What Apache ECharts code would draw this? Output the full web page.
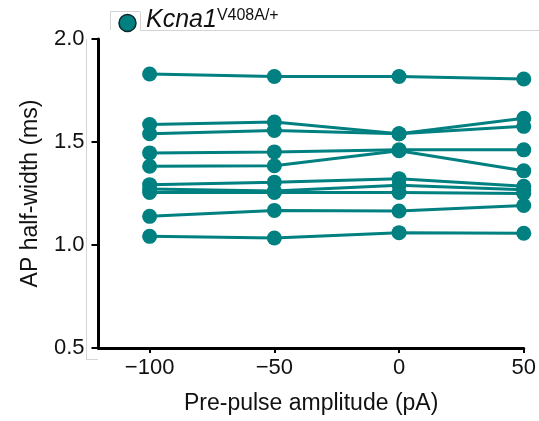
<!DOCTYPE html>
<html>
<head>
<meta charset="utf-8">
<script src="https://cdn.jsdelivr.net/npm/echarts@6/dist/echarts.min.js"></script>
<style>html,body{margin:0;padding:0;background:#fff}#c{width:539px;height:421px}</style>
</head>
<body>
<div id="c"></div>
<script>
// Pre-pulse amplitudes (pA)
const amplitudes = [-100, -50, 0, 50];
// AP half-width (ms), one array per cell
const cell1 = [1.830, 1.818, 1.818, 1.806];
const cell2 = [1.585, 1.597, 1.540, 1.615];
const cell3 = [1.540, 1.556, 1.540, 1.576];
const cell4 = [1.447, 1.452, 1.462, 1.462];
const cell5 = [1.382, 1.385, 1.458, 1.360];
const cell6 = [1.293, 1.305, 1.322, 1.285];
const cell7 = [1.272, 1.262, 1.290, 1.268];
const cell8 = [1.255, 1.255, 1.255, 1.250];
const cell9 = [1.139, 1.168, 1.165, 1.192];
const cell10 = [1.042, 1.034, 1.060, 1.057];
const cells = [cell1, cell2, cell3, cell4, cell5, cell6, cell7, cell8, cell9, cell10];
const xTicks = [-100, -50, 0, 50];
const yTicks = [0.5, 1.0, 1.5, 2.0];
const legendName = 'Kcna1';
const legendSup = 'V408A/+';

const color = '#008080';
const chart = echarts.init(document.getElementById('c'), null, {renderer: 'canvas'});
const series = cells.map((vals, i) => ({
  type: 'line',
  name: 'cell ' + (i + 1),
  data: vals.map((v, j) => [amplitudes[j], v]),
  symbol: 'circle',
  symbolSize: 15,
  clip: false,
  lineStyle: {color: color, width: 3},
  itemStyle: {color: color},
  emphasis: {disabled: true},
  z: 3
}));
const gray = '#d4d4d4';
chart.setOption({
  animation: false,
  grid: {left: 98.5, right: 12, top: 39, bottom: 73},
  xAxis: {
    type: 'value', min: -120.5, max: 50,
    name: 'Pre-pulse amplitude (pA)', nameLocation: 'middle', nameGap: 44,
    nameTextStyle: {fontFamily: 'Liberation Sans', fontSize: 23, color: '#111'},
    axisLine: {onZero: false, lineStyle: {color: '#000', width: 3}},
    axisTick: {customValues: xTicks, length: 5, lineStyle: {color: '#000', width: 2}},
    axisLabel: {customValues: xTicks, margin: 9, fontFamily: 'Liberation Sans', fontSize: 22, color: '#111',
      formatter: v => (v < 0 ? '\u2212' + Math.abs(v) : String(v))},
    splitLine: {show: false}
  },
  yAxis: {
    type: 'value', min: 0.5, max: 2.0, interval: 0.5,
    name: 'AP half-width (ms)', nameLocation: 'middle', nameGap: 56, nameRotate: 90,
    nameTextStyle: {fontFamily: 'Liberation Sans', fontSize: 23, color: '#111'},
    axisLine: {show: true, onZero: false, lineStyle: {color: '#000', width: 3}},
    axisTick: {show: true, length: 7, lineStyle: {color: '#000', width: 2}},
    axisLabel: {margin: 14, fontFamily: 'Liberation Sans', fontSize: 22, color: '#111',
      formatter: v => v.toFixed(1)},
    splitLine: {show: false}
  },
  graphic: [
    {type: 'line', shape: {x1: 140, y1: 30.5, x2: 539, y2: 30.5}, style: {stroke: gray, lineWidth: 1}, silent: true},
    {type: 'line', shape: {x1: 110.5, y1: 12, x2: 110.5, y2: 30}, style: {stroke: gray, lineWidth: 1}, silent: true},
    {type: 'line', shape: {x1: 110, y1: 11.5, x2: 140, y2: 11.5}, style: {stroke: gray, lineWidth: 1}, silent: true},
    {type: 'line', shape: {x1: 140.5, y1: 12, x2: 140.5, y2: 30}, style: {stroke: gray, lineWidth: 1}, silent: true},
    {type: 'line', shape: {x1: 86.5, y1: 39, x2: 86.5, y2: 359}, style: {stroke: gray, lineWidth: 1}, silent: true},
    {type: 'line', shape: {x1: 86, y1: 359.5, x2: 98, y2: 359.5}, style: {stroke: gray, lineWidth: 1}, silent: true},
    {type: 'circle', shape: {cx: 127.5, cy: 23, r: 8.5}, style: {fill: color, stroke: '#0b2b2b', lineWidth: 1.5}, z: 10},
    {type: 'text', left: 146, top: 8, z: 10,
      style: {
        text: '{i|' + legendName + '}{s|' + legendSup + '}',
        rich: {
          i: {fontFamily: 'Liberation Sans', fontStyle: 'italic', fontSize: 25, fill: '#111', verticalAlign: 'bottom'},
          s: {fontFamily: 'Liberation Sans', fontSize: 16, fill: '#111', verticalAlign: 'top', padding: [0, 0, 8, 0]}
        }
      }}
  ],
  series: series
});
</script>
</body>
</html>
